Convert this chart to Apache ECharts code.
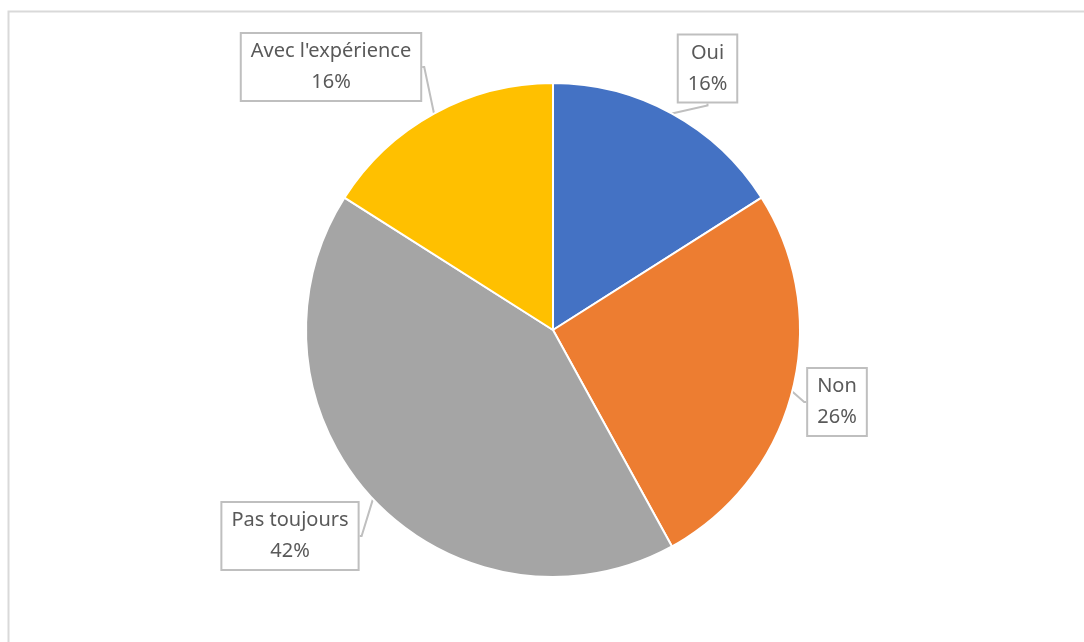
<!DOCTYPE html>
<html>
<head>
<meta charset="utf-8">
<script src="https://cdn.jsdelivr.net/npm/echarts@6/dist/echarts.min.js"></script>
<style>
html,body{margin:0;padding:0;background:#fff;}
#chart{width:1084px;height:642px;}
</style>
</head>
<body>
<div id="chart"></div>
<script>
const categories = ["Oui", "Non", "Pas toujours", "Avec l'expérience"];
const values = [16, 26, 42, 16];
const colors = ["#4472C4", "#ED7D31", "#A5A5A5", "#FFC000"];
const labelPos = [[707.5, 68.5], [837, 402], [290, 536], [331, 67]];

const chart = echarts.init(document.getElementById('chart'), null, {renderer: 'canvas'});
chart.setOption({
  animation: false,
  backgroundColor: '#ffffff',
  graphic: [{
    type: 'rect',
    shape: {x: 8.5, y: 11.5, width: 1200, height: 800},
    style: {fill: 'none', stroke: '#d9d9d9', lineWidth: 2},
    silent: true,
    z: -1
  }],
  series: [{
    type: 'pie',
    center: [553, 330],
    radius: 247,
    startAngle: 90,
    clockwise: true,
    percentPrecision: 0,
    data: categories.map((c, i) => ({name: c, value: values[i], itemStyle: {color: colors[i]}})),
    itemStyle: {borderColor: '#ffffff', borderWidth: 2},
    label: {
      show: true,
      position: 'outside',
      formatter: '{b}\n{d}%',
      color: '#595959',
      fontFamily: 'Noto Sans',
      fontSize: 20,
      lineHeight: 31,
      align: 'center',
      backgroundColor: '#ffffff',
      borderColor: '#bfbfbf',
      borderWidth: 2,
      padding: [2, 9, 2, 9]
    },
    labelLine: {
      show: true,
      length: 4,
      length2: 2,
      lineStyle: {color: '#bfbfbf', width: 2}
    },
    labelLayout: function (params) {
      const p = labelPos[params.dataIndex];
      return {x: p[0], y: p[1], align: 'center', verticalAlign: 'middle'};
    },
    emphasis: {disabled: true}
  }]
});
</script>
</body>
</html>
